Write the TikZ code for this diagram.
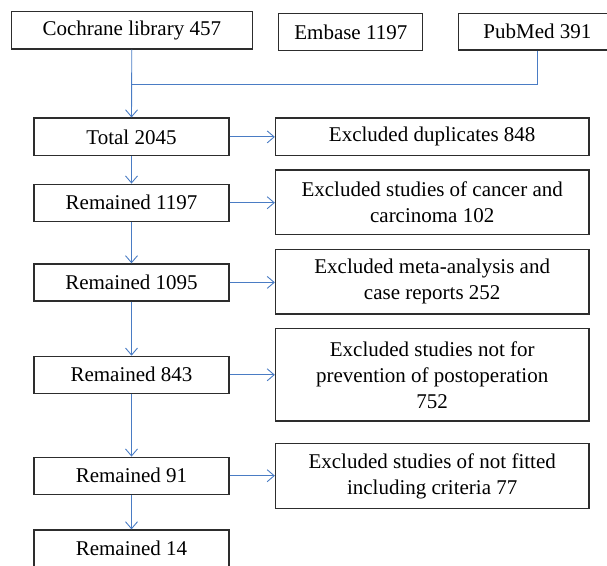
\documentclass[tikz,border=0pt]{standalone}
\usepackage{fontspec}
\setmainfont{Liberation Serif}
\usetikzlibrary{arrows.meta}
\definecolor{arrowblue}{RGB}{74,124,196}
\definecolor{boxgray}{RGB}{45,45,45}
\begin{document}
\begin{tikzpicture}[x=1pt,y=-1pt,
  box/.style={draw=boxgray,line width=1.2pt,align=center,inner sep=2pt,
    font=\fontsize{21}{26}\selectfont},
  rembox/.style={box,minimum width=195pt,minimum height=37pt},
  exbox/.style={box,minimum width=313.5pt},
  conn/.style={draw=arrowblue,line width=0.9pt},
  arr/.style={conn,-{Straight Barb[length=7pt,width=12pt,line width=0.9pt]}}]
\useasboundingbox (0,0) rectangle (607,565);
% sources
\node[box,minimum width=240.8pt,minimum height=37.3pt] (coch) at (131.8,30.4) {Cochrane library 457};
\node[box,minimum width=144.1pt,minimum height=37.2pt] (emb) at (350.8,31.9) {Embase 1197};
\node[box,minimum width=157.2pt,minimum height=36.7pt] (pub) at (537.4,31.7) {PubMed 391};
% main column
\node[rembox,minimum height=37.7pt] (total) at (131.5,136.9) {Total 2045};
\node[rembox] (r1197) at (131.5,202.7) {Remained 1197};
\node[rembox] (r1095) at (131.5,282.4) {Remained 1095};
\node[rembox] (r843) at (131.5,374.8) {Remained 843};
\node[rembox] (r91) at (131.5,475.7) {Remained 91};
\node[rembox] (r14) at (131.5,548.5) {Remained 14};
% exclusions
\node[exbox,minimum height=37.7pt] (dup) at (432.2,136.9) {Excluded duplicates 848};
\node[exbox,minimum height=64.3pt] (canc) at (432.2,202.2) {Excluded studies of cancer and\\carcinoma 102};
\node[exbox,minimum height=64.7pt] (meta) at (432.2,281.7) {Excluded meta-analysis and\\case reports 252};
\node[exbox,minimum height=92.3pt] (prev) at (432.2,374.9) {Excluded studies not for\\prevention of postoperation\\752};
\node[exbox,minimum height=65pt] (fit) at (432.2,476.2) {Excluded studies of not fitted\\including criteria 77};
% connectors
\coordinate (j) at (131.5,84.3);
\draw[conn] (pub.south) |- (j);
\draw[arr] (coch.south) -- (total.north);
\draw[arr] (total) -- (r1197);
\draw[arr] (r1197) -- (r1095);
\draw[arr] (r1095) -- (r843);
\draw[arr] (r843) -- (r91);
\draw[arr] (r91) -- (r14);
\draw[arr] (total.east) -- (dup.west);
\draw[arr] (r1197.east) -- (canc.west |- r1197.east);
\draw[arr] (r1095.east) -- (meta.west |- r1095.east);
\draw[arr] (r843.east) -- (prev.west |- r843.east);
\draw[arr] (r91.east) -- (fit.west |- r91.east);
\end{tikzpicture}
\end{document}
